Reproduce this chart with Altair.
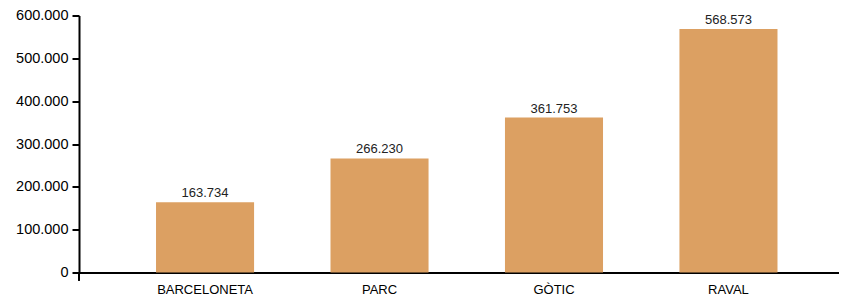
import altair as alt
import pandas as pd

barrios = ["BARCELONETA", "PARC", "GÒTIC", "RAVAL"]
valores = [163734, 266230, 361753, 568573]
y_ticks = [0, 100000, 200000, 300000, 400000, 500000, 600000]

df = pd.DataFrame({"barrio": barrios, "valor": valores})

FONT = "Liberation Sans"
W, H = 760, 257

x_enc = alt.X(
    "barrio:N",
    sort=barrios,
    title=None,
    scale=alt.Scale(paddingInner=0.438, paddingOuter=0.397, align=0.556, round=False),
    axis=alt.Axis(
        labelAngle=0, ticks=False, labelPadding=11, labelFontSize=13,
        labelFont=FONT, labelColor="#000", domainColor="#000", domainWidth=2,
    ),
)
y_enc = alt.Y(
    "valor:Q",
    title=None,
    scale=alt.Scale(domain=[0, 600000], nice=False),
    axis=alt.Axis(
        values=y_ticks, grid=False, tickSize=7, tickWidth=2, tickColor="#000",
        domainColor="#000", domainWidth=2, labelFontSize=14.5, labelFont=FONT,
        labelColor="#000", labelPadding=4,
        labelExpr="replace(format(datum.value, ','), regexp(',', 'g'), '.')",
    ),
)

bars = alt.Chart(df).mark_bar(color="#DCA062").encode(x=x_enc, y=y_enc)

text = alt.Chart(df).transform_calculate(
    lab="replace(format(datum.valor, ','), regexp(',', 'g'), '.')"
).mark_text(
    font=FONT, fontSize=13, color="#222", baseline="alphabetic", dy=-5
).encode(x=alt.X("barrio:N", sort=barrios), y="valor:Q", text="lab:N")

outer_tick = alt.Chart(df).mark_rule(color="#000", strokeWidth=2).encode(
    x=alt.value(0), y=alt.value(H), y2=alt.value(H + 8)
)

chart = alt.layer(bars, text, outer_tick).properties(
    width=W, height=H,
    autosize=alt.AutoSizeParams(type="none"),
    padding={"left": 71, "top": 7.5, "right": 0, "bottom": 24.5},
).configure_view(stroke=None)

chart.save("out.html", embed_options={"renderer": "svg", "actions": False})
